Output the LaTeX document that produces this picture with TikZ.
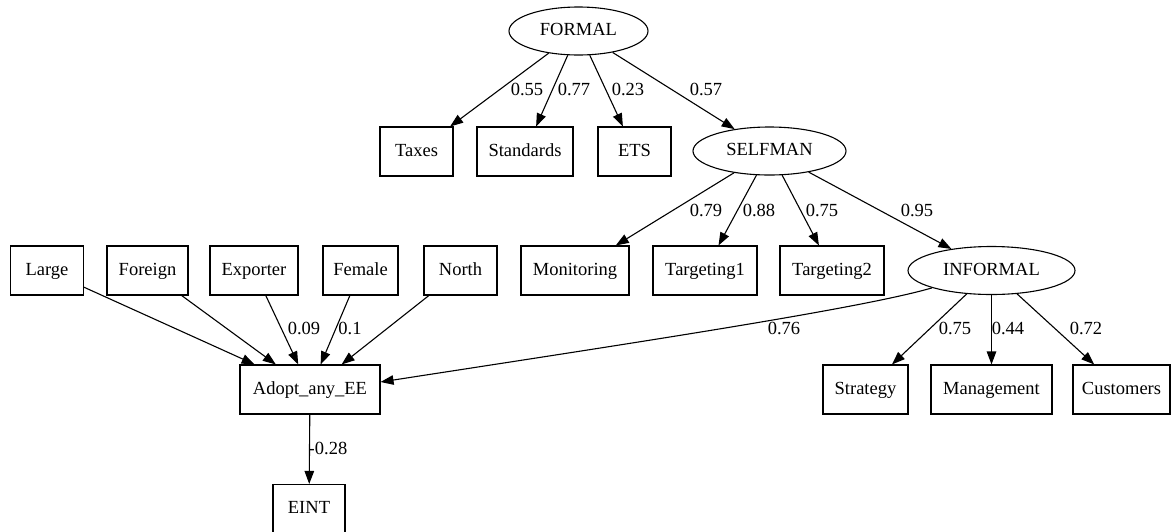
\documentclass[tikz,border=0pt]{standalone}
\usepackage{fontspec}
\setmainfont{Liberation Serif}
\usetikzlibrary{shapes.geometric,arrows.meta}
\tikzset{
  every node/.style={font=\fontsize{18.5}{22}\selectfont},
  box/.style={draw, line width=1.1pt, rectangle, minimum height=49pt, minimum width=#1, inner sep=0pt, text height=12.5pt, text depth=3.5pt},
  lat/.style={draw, line width=1.1pt, ellipse, minimum height=48pt, minimum width=#1, inner sep=0pt, text height=12.5pt, text depth=3.5pt},
  edge/.style={line width=1.1pt, -{Triangle[length=13pt,width=9.5pt]}},
  lbl/.style={inner sep=0pt, text height=12.5pt, text depth=3.5pt}
}
\begin{document}
\begin{tikzpicture}[x=1pt,y=-1pt]
\useasboundingbox (0,0) rectangle (1174,531);
% latent
\node[lat=139pt] (FORMAL) at (578.5,31) {FORMAL};
\node[lat=153pt] (SELFMAN) at (769.5,151) {SELFMAN};
\node[lat=167pt] (INFORMAL) at (991.5,270.5) {INFORMAL};
% row 2
\node[box=73pt] (Taxes) at (416.5,151.5) {Taxes};
\node[box=96pt] (Standards) at (525,151.5) {Standards};
\node[box=73pt] (ETS) at (634.5,151.5) {ETS};
% row 3
\node[box=73pt] (Large) at (47,270.5) {Large};
\node[box=81pt] (Foreign) at (147.5,270.5) {Foreign};
\node[box=88pt] (Exporter) at (254,270.5) {Exporter};
\node[box=75pt] (Female) at (360.5,270.5) {Female};
\node[box=73pt] (North) at (460.5,270.5) {North};
\node[box=108pt] (Monitoring) at (575,270.5) {Monitoring};
\node[box=104pt] (Targeting1) at (705,270.5) {Targeting1};
\node[box=104pt] (Targeting2) at (832,270.5) {Targeting2};
% row 4
\node[box=140pt] (Adopt) at (310,389.5) {Adopt\_any\_EE};
\node[box=85pt] (Strategy) at (865.5,389.5) {Strategy};
\node[box=121pt] (Management) at (991.5,389.5) {Management};
\node[box=97pt] (Customers) at (1121.5,389.5) {Customers};
% row 5
\node[box=72pt] (EINT) at (309,509) {EINT};
% edges
\draw[edge] (FORMAL) -- (Taxes);
\draw[edge] (FORMAL) -- (Standards);
\draw[edge] (FORMAL) -- (ETS);
\draw[edge] (FORMAL) -- (SELFMAN);
\draw[edge] (SELFMAN) -- (Monitoring);
\draw[edge] (SELFMAN) -- (Targeting1);
\draw[edge] (SELFMAN) -- (Targeting2);
\draw[edge] (SELFMAN) -- (INFORMAL);
\draw[edge] (INFORMAL) -- (Strategy);
\draw[edge] (INFORMAL) -- (Management);
\draw[edge] (INFORMAL) -- (Customers);
\draw[edge] (Large) -- (Adopt);
\draw[edge] (Foreign) -- (Adopt);
\draw[edge] (Exporter) -- (Adopt);
\draw[edge] (Female) -- (Adopt);
\draw[edge] (North) -- (Adopt);
\draw[edge] (INFORMAL.south west) .. controls (860,309) and (620,345) .. ([yshift=7.5pt]Adopt.east);
\draw[edge] (Adopt) -- (EINT);
% labels
\node[lbl] (l1) at (527,91) {0.55};
\node[lbl] (l2) at (574,91) {0.77};
\node[lbl] (l3) at (628,91) {0.23};
\node[lbl] (l4) at (706,91) {0.57};
\node[lbl] (l5) at (706,212) {0.79};
\node[lbl] (l6) at (759,212) {0.88};
\node[lbl] (l7) at (822,212) {0.75};
\node[lbl] (l8) at (917,212) {0.95};
\node[lbl] (l9) at (784,330) {0.76};
\node[lbl] (l10) at (955,330) {0.75};
\node[lbl] (l11) at (1008,330) {0.44};
\node[lbl] (l12) at (1086,330) {0.72};
\node[lbl] (l13) at (304,330) {0.09};
\node[lbl] (l14) at (350,330) {0.1};
\node[lbl] (l15) at (328,450) {-0.28};
\end{tikzpicture}
\end{document}
